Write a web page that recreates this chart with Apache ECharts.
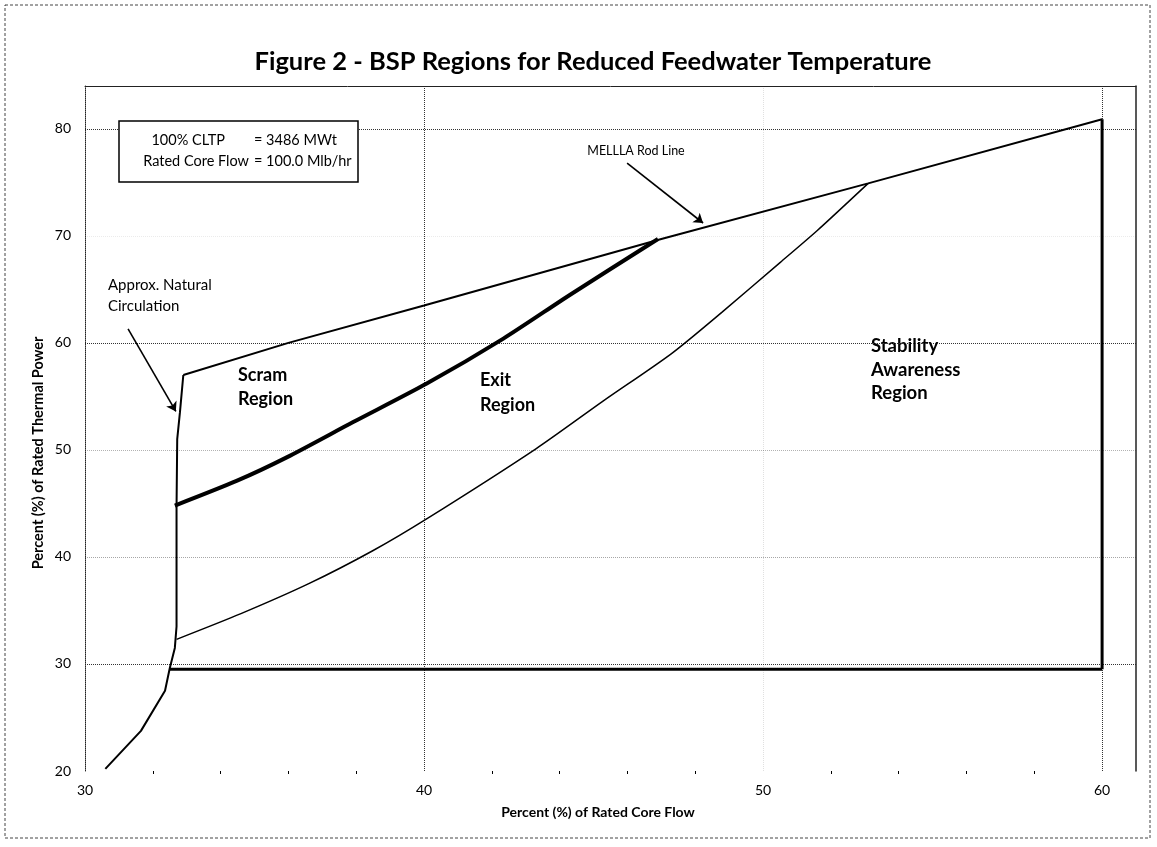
<!DOCTYPE html>
<html>
<head>
<meta charset="utf-8">
<script src="https://cdn.jsdelivr.net/npm/echarts@6/dist/echarts.min.js"></script>
<style>
html,body{margin:0;padding:0;background:#fff;}
#chart{width:1157px;height:847px;}
</style>
</head>
<body>
<div id="chart"></div>
<script>
// ---- Data (percent rated core flow, percent rated thermal power) ----
const natCircLine = [[30.6,20.2],[31.65,23.75],[32.36,27.5],[32.5,29.6],[32.65,31.5],[32.7,33.5],[32.7,44.6],[32.72,51.0],[32.8,53.5],[32.9,57.0]];
const mellaRodLine = [[32.9,57.0],[36.0,60.0],[40.0,63.5],[47.0,69.7],[53.1,74.9],[60.0,80.9]];
const scramExitBoundary = [[32.65,44.8],[34.47,47.1],[35.95,49.3],[37.91,52.6],[40.08,56.2],[42.34,60.4],[44.31,64.5],[46.9,69.7]];
const stabilityBoundary = [[32.7,32.3],[34.6,34.7],[36.6,37.5],[38.5,40.6],[40.1,43.6],[43.3,50.1],[45.3,54.6],[47.3,59.0],[48.8,62.9],[50.5,67.5],[51.6,70.5],[53.1,74.9]];
const bottomBoundary = [[32.5,29.5],[60.0,29.5]];
const rightBoundary = [[60.0,29.5],[60.0,80.9]];
const natCircArrow = [[31.27,61.3],[32.68,53.6]];
const mellaArrow = [[45.99,76.8],[48.23,71.2]];
const xTicks = [30,40,50,60];
const yTicks = [20,30,40,50,60,70,80];

const FONT = 'Lato, "Open Sans", sans-serif';
const chart = echarts.init(document.getElementById('chart'), null, {renderer:'canvas'});

function lineSeries(data, width, smooth){
  return {type:'line', data:data, symbol:'none', smooth:smooth ? 0.25 : false, silent:true,
    lineStyle:{color:'#000', width:width}, xAxisIndex:0, yAxisIndex:0, z:5};
}
function arrowSeries(coords){
  return {type:'lines', coordinateSystem:'cartesian2d', xAxisIndex:0, yAxisIndex:0, silent:true,
    symbol:['none','arrow'], symbolSize:[1,9],
    lineStyle:{color:'#000', width:1.6, opacity:1, curveness:0},
    data:[{coords:coords}], z:6};
}

const option = {
  animation:false,
  backgroundColor:'#fff',
  grid:{left:85, right:21, top:86, bottom:76, containLabel:false},
  xAxis:[{
    type:'value', min:30, max:61, interval:10, position:'bottom',
    axisLine:{show:false},
    axisTick:{show:false},
    minorTick:{show:true, splitNumber:5, length:3, lineStyle:{color:'#000', width:1}},
    axisLabel:{margin:12, fontFamily:FONT, fontSize:14, color:'#000',
      formatter:function(v){return xTicks.indexOf(v)>=0 ? String(v) : '';}},
    splitLine:{show:true, lineStyle:{type:'dotted', width:1,
      color:['rgba(0,0,0,0)','#333','rgba(0,0,0,0.12)','#333','rgba(0,0,0,0)']}}
  },{
    type:'value', min:30, max:61, position:'top',
    axisLine:{show:true, lineStyle:{color:'#222', width:1}},
    axisTick:{show:false}, axisLabel:{show:false}, splitLine:{show:false}
  }],
  yAxis:[{
    type:'value', min:20, max:84, interval:10, position:'left',
    axisLine:{show:true, lineStyle:{color:'#222', width:1, type:'dotted'}},
    axisTick:{show:false},
    axisLabel:{margin:14, fontFamily:FONT, fontSize:14, color:'#000',
      formatter:function(v){return yTicks.indexOf(v)>=0 ? String(v) : '';}},
    splitLine:{show:true, lineStyle:{type:'dotted', width:1,
      color:['rgba(0,0,0,0)','#333','rgba(0,0,0,0.35)','rgba(0,0,0,0.3)','#333','rgba(0,0,0,0.08)','#333','rgba(0,0,0,0)']}}
  },{
    type:'value', min:20, max:84, position:'right',
    axisLine:{show:true, lineStyle:{color:'#222', width:1.5}},
    axisTick:{show:false}, axisLabel:{show:false}, splitLine:{show:false}
  }],
  series:[
    lineSeries(natCircLine, 2, false),
    lineSeries(mellaRodLine, 2, false),
    lineSeries(scramExitBoundary, 4, true),
    lineSeries(stabilityBoundary, 1.5, true),
    lineSeries(bottomBoundary, 3, false),
    lineSeries(rightBoundary, 3, false),
    arrowSeries(natCircArrow),
    arrowSeries(mellaArrow)
  ],
  graphic:[
    {type:'rect', shape:{x:5, y:5, width:1145, height:833}, silent:true,
      style:{fill:'none', stroke:'#444', lineWidth:1, lineDash:[3,2]}, z:-1},
    {type:'text', x:593, y:62, silent:true,
      style:{text:'Figure 2 - BSP Regions for Reduced Feedwater Temperature', align:'center', verticalAlign:'middle',
        font:'bold 25.5px '+FONT, fill:'#000'}},
    {type:'text', x:38, y:453, rotation:Math.PI/2, silent:true,
      style:{text:'Percent (%) of Rated Thermal Power', align:'center', verticalAlign:'middle',
        font:'bold 14.5px '+FONT, fill:'#000'}},
    {type:'text', x:598, y:812, silent:true,
      style:{text:'Percent (%) of Rated Core Flow', align:'center', verticalAlign:'middle',
        font:'bold 14px '+FONT, fill:'#000'}},
    {type:'rect', shape:{x:119, y:121, width:239, height:61}, silent:true, z:10,
      style:{fill:'#fff', stroke:'#000', lineWidth:1.5}},
    {type:'text', x:225, y:140, silent:true, z:11,
      style:{text:'100% CLTP', align:'right', verticalAlign:'middle', font:'14.5px '+FONT, fill:'#000'}},
    {type:'text', x:254, y:140, silent:true, z:11,
      style:{text:'= 3486 MWt', align:'left', verticalAlign:'middle', font:'14.5px '+FONT, fill:'#000'}},
    {type:'text', x:249, y:161, silent:true, z:11,
      style:{text:'Rated Core Flow', align:'right', verticalAlign:'middle', font:'14.5px '+FONT, fill:'#000'}},
    {type:'text', x:254, y:161, silent:true, z:11,
      style:{text:'= 100.0 Mlb/hr', align:'left', verticalAlign:'middle', font:'14.5px '+FONT, fill:'#000'}},
    {type:'text', x:636, y:151, silent:true,
      style:{text:'MELLLA Rod Line', align:'center', verticalAlign:'middle', font:'12.5px '+FONT, fill:'#000'}},
    {type:'text', x:108, y:296, silent:true,
      style:{text:'Approx. Natural\nCirculation', align:'left', verticalAlign:'middle', lineHeight:21, font:'15px '+FONT, fill:'#000'}},
    {type:'text', x:238, y:387, silent:true,
      style:{text:'Scram\nRegion', align:'left', verticalAlign:'middle', lineHeight:24, font:'bold 18px '+FONT, fill:'#000'}},
    {type:'text', x:480, y:393, silent:true,
      style:{text:'Exit\nRegion', align:'left', verticalAlign:'middle', lineHeight:25, font:'bold 18px '+FONT, fill:'#000'}},
    {type:'text', x:871, y:370, silent:true,
      style:{text:'Stability\nAwareness\nRegion', align:'left', verticalAlign:'middle', lineHeight:23.5, font:'bold 18.5px '+FONT, fill:'#000'}}
  ]
};
chart.setOption(option);
</script>
</body>
</html>
